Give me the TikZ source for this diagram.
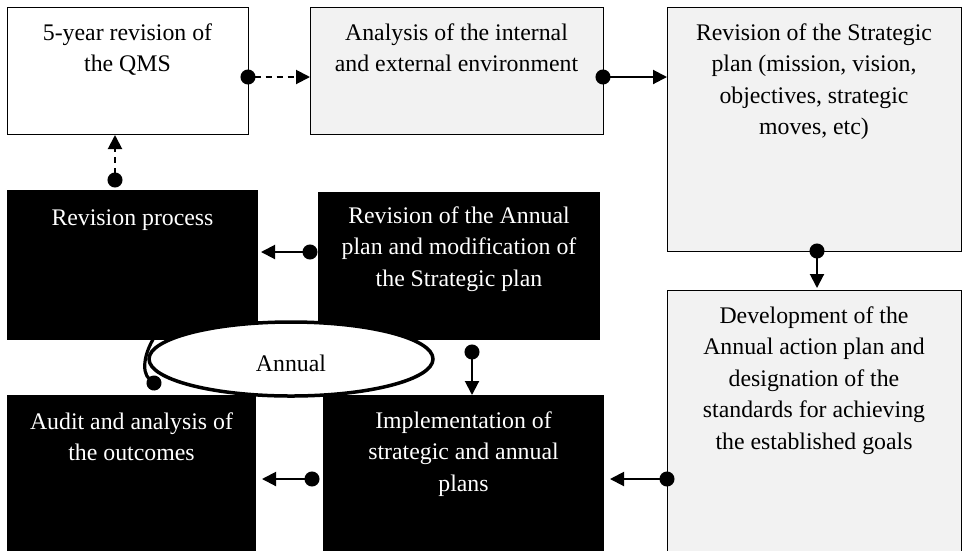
\documentclass[tikz,border=0pt]{standalone}
\usepackage{fontspec}
\setmainfont{Liberation Serif}
\usetikzlibrary{arrows.meta,shapes.geometric}
\definecolor{boxgray}{HTML}{F2F2F2}
\tikzset{
  graybox/.style={draw=black, line width=0.9pt, fill=boxgray, anchor=north west, inner sep=0pt, outer sep=0pt},
  whitebox/.style={draw=black, line width=0.9pt, fill=white, anchor=north west, inner sep=0pt, outer sep=0pt},
  blackbox/.style={fill=black, anchor=north west, inner sep=0pt, outer sep=0pt},
  txt/.style={anchor=north, inner sep=0pt, align=center, font=\fontsize{23.8pt}{31.5pt}\selectfont},
  wtxt/.style={txt, text=white},
  conn/.style={line width=2pt, {Circle[length=15pt]}-{Triangle[length=14pt,width=14pt]}, shorten <=-7.5pt},
  dconn/.style={conn, dash pattern=on 6pt off 5pt},
}
\newcommand{\fs}{\rule{0pt}{18pt}}
\begin{document}
\begin{tikzpicture}[x=1pt,y=-1pt]
\useasboundingbox (0,0) rectangle (965,550);
% boxes
\node[whitebox, minimum width=241, minimum height=127] (A) at (7,7) {};
\node[graybox, minimum width=293, minimum height=127] (B) at (310,7) {};
\node[graybox, minimum width=294, minimum height=244] (C) at (667,7) {};
\node[graybox, minimum width=294, minimum height=270] (D) at (667,290) {};
\node[blackbox, minimum width=251, minimum height=150] (RP) at (7,190) {};
\node[blackbox, minimum width=282, minimum height=148] (RA) at (318,192) {};
\node[blackbox, minimum width=249, minimum height=165] (AU) at (7,395) {};
\node[blackbox, minimum width=281, minimum height=165] (IM) at (323,395) {};
% ellipse
\node[ellipse, draw=black, line width=3.5pt, fill=white, minimum width=284, minimum height=74, inner sep=0pt] (E) at (291,359) {};
\node[anchor=base, inner sep=0pt, font=\fontsize{23.8pt}{31.5pt}\selectfont] (Et) at (291,371) {Annual};
% loop curve at left of the ellipse
\coordinate (cs) at (154,383);
\coordinate (ce) at (162,326);
\draw[line width=3.2pt, {Circle[length=15pt]}-, shorten <=-7.5pt] (cs) .. controls (141,372) and (143,350) .. (ce);
% connectors
\coordinate (rpdot) at (115,180);
\coordinate (radot) at (310,252);
\coordinate (ra2dot) at (472,352);
\coordinate (imdot) at (312,479);
\draw[dconn] (A.east |- 0,77) -- (B.west |- 0,77);
\draw[dconn, shorten >=1pt] (rpdot) -- (rpdot |- A.south);
\draw[conn] (B.east |- 0,77) -- (C.west |- 0,77);
\draw[conn, shorten >=2pt] (C.south -| 817,0) -- (D.north -| 817,0);
\draw[conn, shorten >=3pt] (radot) -- (RP.east |- radot);
\draw[conn] (ra2dot) -- (IM.north -| ra2dot);
\draw[conn, shorten >=6pt] (imdot) -- (AU.east |- imdot);
\draw[conn, shorten >=6pt] (D.west |- 0,479) -- (IM.east |- 0,479);
% texts
\node[txt] (At) at ([yshift=-15pt]A.north) {\fs 5-year revision of\\the QMS};
\node[txt] (Bt) at ([yshift=-15pt]B.north) {\fs Analysis of the internal\\and external environment};
\node[txt] (Ct) at ([yshift=-15pt]C.north) {\fs Revision of the Strategic\\plan (mission, vision,\\objectives, strategic\\moves, etc)};
\node[txt] (Dt) at ([yshift=-15pt]D.north) {\fs Development of the\\Annual action plan and\\designation of the\\standards for achieving\\the established goals};
\node[wtxt] (RPt) at ([yshift=-17pt]RP.north) {\fs Revision process};
\node[wtxt] (RAt) at ([yshift=-13pt]RA.north) {\fs Revision of the Annual\\plan and modification of\\the Strategic plan};
\node[wtxt] (AUt) at ([yshift=-16pt]AU.north) {\fs Audit and analysis of\\the outcomes};
\node[wtxt] (IMt) at ([yshift=-15pt]IM.north) {\fs Implementation of\\strategic and annual\\plans};
\end{tikzpicture}
\end{document}
